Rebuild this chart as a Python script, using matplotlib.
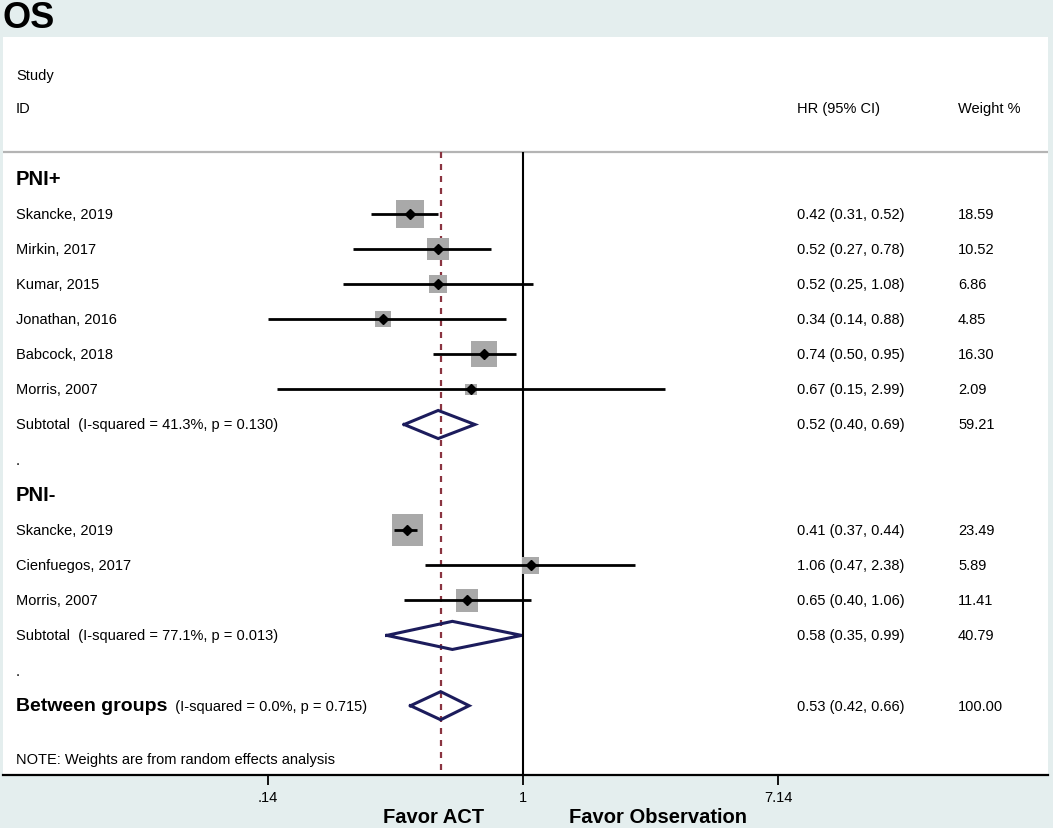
import matplotlib
matplotlib.use("Agg")
import matplotlib.pyplot as plt
import numpy as np

# -------------------------------
# Data
# -------------------------------
pos_studies = ["Skancke, 2019", "Mirkin, 2017", "Kumar, 2015",
               "Jonathan, 2016", "Babcock, 2018", "Morris, 2007"]
pos_hr = [0.42, 0.52, 0.52, 0.34, 0.74, 0.67]
pos_lo = [0.31, 0.27, 0.25, 0.14, 0.50, 0.15]
pos_hi = [0.52, 0.78, 1.08, 0.88, 0.95, 2.99]
pos_weight = [18.59, 10.52, 6.86, 4.85, 16.30, 2.09]
pos_sub = [0.52, 0.40, 0.69, 59.21]
pos_sub_label = "Subtotal  (I-squared = 41.3%, p = 0.130)"

neg_studies = ["Skancke, 2019", "Cienfuegos, 2017", "Morris, 2007"]
neg_hr = [0.41, 1.06, 0.65]
neg_lo = [0.37, 0.47, 0.40]
neg_hi = [0.44, 2.38, 1.06]
neg_weight = [23.49, 5.89, 11.41]
neg_sub = [0.58, 0.35, 0.99, 40.79]
neg_sub_label = "Subtotal  (I-squared = 77.1%, p = 0.013)"

overall = [0.53, 0.42, 0.66, 100.00]
overall_stats = "(I-squared = 0.0%, p = 0.715)"

tick_values = [0.14, 1, 7.14]
tick_labels = [".14", "1", "7.14"]

# -------------------------------
# Style
# -------------------------------
plt.rcParams["font.family"] = ["Liberation Sans", "DejaVu Sans"]
BG = "#e4eeee"
SQUARE = "#a9a9a9"
NAVY = "#1c1c5c"
DASH = "#8a3440"
FS = 10.5

W, H = 1053, 829
fig = plt.figure(figsize=(W / 100, H / 100), dpi=100, facecolor=BG)
ax = fig.add_axes([3 / W, 53 / H, 1045 / W, 738 / H])
ax.set_facecolor("white")

# pixel calibration of the log axis (null line at x=523, ~129.7 px per ln unit)
null_px, px_per_ln = 523, 129.7
ax.set_xscale("log")
ax.set_xlim(np.exp((3 - null_px) / px_per_ln), np.exp((1048 - null_px) / px_per_ln))
ax.set_ylim((776 - 74) / 35.15, (38 - 74) / 35.15)

for side in ["top", "left", "right"]:
    ax.spines[side].set_visible(False)
ax.spines["bottom"].set_linewidth(1.6)
ax.set_xticks(tick_values)
ax.set_xticklabels(tick_labels, fontsize=FS)
ax.minorticks_off()
ax.tick_params(axis="x", direction="out", length=7.5, width=1.3, pad=3)
ax.set_yticks([])

tr = ax.get_yaxis_transform()
x_lab, x_hr, x_w = 13 / 1045, 794 / 1045, 955 / 1045

# header
ax.text(x_lab, 0.05, "Study", transform=tr, fontsize=FS, va="center")
ax.text(x_lab, 1, "ID", transform=tr, fontsize=FS, va="center")
ax.text(x_hr, 1, "HR (95% CI)", transform=tr, fontsize=FS, va="center")
ax.text(x_w, 1, "Weight %", transform=tr, fontsize=FS, va="center")
sep_row = 2.25
ax.axhline(sep_row, color="#b4b4b4", lw=1.6, zorder=1)

ybot = ax.get_ylim()[0]
ax.vlines(1, sep_row, ybot, color="black", lw=1.5, zorder=1)
ax.vlines(overall[0], sep_row, ybot, color=DASH, lw=1.6,
          linestyles=(0, (2.7, 2.7)), zorder=1)


def square_size(weight):
    # box side grows with sqrt(weight), as in the Stata plot
    side_pt = 0.72 * (5.83 * np.sqrt(np.array(weight)) + 2.87)
    return side_pt ** 2


def draw_diamond(r, est):
    h, l, u = est[0], est[1], est[2]
    ax.plot([l, h, u, h, l], [r, r - 0.4, r, r + 0.4, r], color=NAVY, lw=2.2,
            solid_joinstyle="miter", zorder=3)


def draw_group(title, row0, names, hr, lo, hi, weight, sub, sub_label):
    ax.text(x_lab, row0, title, transform=tr, fontsize=14.5, fontweight="bold", va="center")
    rows = np.arange(len(names)) + row0 + 1
    ax.scatter(hr, rows, marker="s", s=square_size(weight), color=SQUARE,
               linewidths=0, zorder=2)
    ax.hlines(rows, lo, hi, color="black", lw=2, zorder=3)
    ax.plot(hr, rows, "D", color="black", ms=5, zorder=4)
    for r, n, h, l, u, w in zip(rows, names, hr, lo, hi, weight):
        ax.text(x_lab, r, n, transform=tr, fontsize=FS, va="center")
        ax.text(x_hr, r, f"{h:.2f} ({l:.2f}, {u:.2f})", transform=tr, fontsize=FS, va="center")
        ax.text(x_w, r, f"{w:.2f}", transform=tr, fontsize=FS, va="center")
    r = rows[-1] + 1
    draw_diamond(r, sub)
    ax.text(x_lab, r, sub_label, transform=tr, fontsize=FS, va="center")
    ax.text(x_hr, r, f"{sub[0]:.2f} ({sub[1]:.2f}, {sub[2]:.2f})", transform=tr,
            fontsize=FS, va="center")
    ax.text(x_w, r, f"{sub[3]:.2f}", transform=tr, fontsize=FS, va="center")
    ax.text(x_lab, r + 1, ".", transform=tr, fontsize=FS, va="center")
    return r + 2


nxt = draw_group("PNI+", 3, pos_studies, pos_hr, pos_lo, pos_hi, pos_weight,
                 pos_sub, pos_sub_label)
nxt = draw_group("PNI-", nxt, neg_studies, neg_hr, neg_lo, neg_hi, neg_weight,
                 neg_sub, neg_sub_label)

# overall
draw_diamond(nxt, overall)
t = ax.text(x_lab, nxt, "Between groups", transform=tr, fontsize=14,
            fontweight="bold", va="center")
ax.annotate("  " + overall_stats, xy=(1, 0.5), xycoords=t, fontsize=FS, va="center")
ax.text(x_hr, nxt, f"{overall[0]:.2f} ({overall[1]:.2f}, {overall[2]:.2f})",
        transform=tr, fontsize=FS, va="center")
ax.text(x_w, nxt, f"{overall[3]:.2f}", transform=tr, fontsize=FS, va="center")
ax.text(x_lab, nxt + 1.52, "NOTE: Weights are from random effects analysis",
        transform=tr, fontsize=FS, va="center")

# titles
fig.text(2 / W, 1 - 18 / H, "OS", fontsize=26, fontweight="bold", va="center")
fig.text(434 / W, 1 - 818 / H, "Favor ACT", fontsize=14.5, fontweight="bold",
         ha="center", va="center")
fig.text(658 / W, 1 - 818 / H, "Favor Observation", fontsize=14.5, fontweight="bold",
         ha="center", va="center")

fig.savefig("out.png", dpi=100, facecolor=BG)
